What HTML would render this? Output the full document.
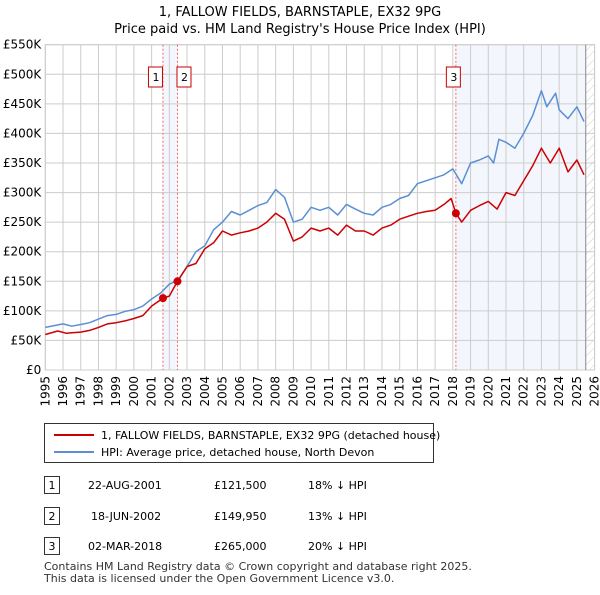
<!DOCTYPE html>
<html><head><meta charset="utf-8"><style>
body{margin:0;background:#fff;font-family:"Liberation Sans","DejaVu Sans",sans-serif;}
svg text{font-family:"DejaVu Sans","Liberation Sans",sans-serif;}
</style></head><body>
<svg id="c" width="600" height="590" viewBox="0 0 600 590" xmlns="http://www.w3.org/2000/svg">
<defs><pattern id="hatch" width="6" height="6" patternUnits="userSpaceOnUse" patternTransform="rotate(45)"><line x1="0" y1="0" x2="0" y2="6" stroke="#ccc" stroke-width="1"/></pattern></defs>
<text x="300" y="16" text-anchor="middle" font-size="13" fill="#000">1, FALLOW FIELDS, BARNSTAPLE, EX32 9PG</text>
<text x="300" y="33" text-anchor="middle" font-size="13" fill="#000">Price paid vs. HM Land Registry's House Price Index (HPI)</text>
<g id="plot"></g>
<g>
<rect x="44.5" y="423.5" width="389" height="39" fill="#fff" stroke="#333"/>
<line x1="54" y1="435" x2="94" y2="435" stroke="#cc0000" stroke-width="2"/>
<text x="101" y="439" font-size="11">1, FALLOW FIELDS, BARNSTAPLE, EX32 9PG (detached house)</text>
<line x1="54" y1="452" x2="94" y2="452" stroke="#5b8fd4" stroke-width="2"/>
<text x="101" y="456" font-size="11">HPI: Average price, detached house, North Devon</text>
</g>
<g font-size="11">
<rect x="44.5" y="476.5" width="15" height="17" fill="#fff" stroke="#333"/><text x="52" y="489" text-anchor="middle">1</text>
<text x="88" y="489">22-AUG-2001</text><text x="214" y="489">£121,500</text><text x="308" y="489">18% ↓ HPI</text>
<rect x="44.5" y="507.5" width="15" height="17" fill="#fff" stroke="#333"/><text x="52" y="520" text-anchor="middle">2</text>
<text x="91" y="520">18-JUN-2002</text><text x="214" y="520">£149,950</text><text x="308" y="520">13% ↓ HPI</text>
<rect x="44.5" y="537.5" width="15" height="17" fill="#fff" stroke="#333"/><text x="52" y="550" text-anchor="middle">3</text>
<text x="88" y="550">02-MAR-2018</text><text x="214" y="550">£265,000</text><text x="308" y="550">20% ↓ HPI</text>
</g>
<text x="44" y="570" font-size="11" fill="#333">Contains HM Land Registry data © Crown copyright and database right 2025.</text>
<text x="44" y="582" font-size="11" fill="#333">This data is licensed under the Open Government Licence v3.0.</text>
</svg>
<script>
const yTicks=[0,50,100,150,200,250,300,350,400,450,500,550];
const yTickLabels=["£0","£50K","£100K","£150K","£200K","£250K","£300K","£350K","£400K","£450K","£500K","£550K"];
const xYears=[1995,1996,1997,1998,1999,2000,2001,2002,2003,2004,2005,2006,2007,2008,2009,2010,2011,2012,2013,2014,2015,2016,2017,2018,2019,2020,2021,2022,2023,2024,2025,2026];
const hpiYears=[1995,1995.5,1996,1996.5,1997,1997.5,1998,1998.5,1999,1999.5,2000,2000.5,2001,2001.5,2002,2002.5,2003,2003.5,2004,2004.5,2005,2005.5,2006,2006.5,2007,2007.5,2008,2008.5,2009,2009.5,2010,2010.5,2011,2011.5,2012,2012.5,2013,2013.5,2014,2014.5,2015,2015.5,2016,2016.5,2017,2017.5,2018,2018.5,2019,2019.5,2020,2020.3,2020.6,2021,2021.5,2022,2022.5,2023,2023.3,2023.8,2024,2024.5,2025,2025.4];
const hpiValues=[72,75,78,74,77,80,86,92,94,99,102,108,120,130,145,152,175,200,210,237,250,268,262,270,278,283,305,292,250,255,275,270,275,262,280,272,265,262,275,280,290,295,315,320,325,330,340,315,350,355,362,350,390,385,375,400,430,472,445,468,440,425,445,420];
const priceYears=[1995,1995.7,1996.2,1996.5,1997,1997.5,1998,1998.5,1999,1999.5,2000,2000.5,2001,2001.64,2002,2002.46,2003,2003.5,2004,2004.5,2005,2005.5,2006,2006.5,2007,2007.5,2008,2008.5,2009,2009.5,2010,2010.5,2011,2011.5,2012,2012.5,2013,2013.5,2014,2014.5,2015,2015.5,2016,2016.5,2017,2017.5,2017.9,2018.17,2018.5,2019,2019.5,2020,2020.5,2021,2021.5,2022,2022.5,2023,2023.5,2024,2024.5,2025,2025.4];
const priceValues=[60,66,62,63,64,67,72,78,80,83,87,92,108,121.5,125,150,175,180,205,215,235,228,232,235,240,250,265,255,218,225,240,235,240,228,245,235,235,228,240,245,255,260,265,268,270,280,290,265,250,270,278,285,272,300,295,320,345,375,350,375,335,355,330];
const saleYears=[2001.64,2002.46,2018.17];
const saleValues=[121.5,149.95,265];
const saleLabels=["1","2","3"];
const L=45.3,R=594.6,T=44.7,B=370;
const xs=y=>L+(y-1995)/(2026-1995)*(R-L);
const ys=v=>B-v/550*(B-T);
const NS="http://www.w3.org/2000/svg";
const g=document.getElementById('plot');
function mk(t,a,p){const e=document.createElementNS(NS,t);for(const k in a)e.setAttribute(k,a[k]);(p||g).appendChild(e);return e;}
// shading
let s1=mk('rect',{x:xs(saleYears[0]),y:T,width:xs(saleYears[1])-xs(saleYears[0]),height:B-T,fill:'#eef3fc',opacity:0.7});


let s2=mk('rect',{x:xs(saleYears[2]),y:T,width:xs(2025.5)-xs(saleYears[2]),height:B-T,fill:'#eef3fc',opacity:0.7});


let h=mk('rect',{x:xs(2025.5),y:T,width:R-xs(2025.5),height:B-T,fill:'url(#hatch)'});


// grid
yTicks.forEach((v,i)=>{let l=mk('line',{x1:L,x2:R,y1:ys(v),y2:ys(v),stroke:'#ccc'});


let t=mk('text',{x:L-4,y:ys(v)+4,'text-anchor':'end','font-size':12,fill:'#000'});t.textContent=yTickLabels[i];

});
xYears.forEach(yr=>{let l=mk('line',{x1:xs(yr),x2:xs(yr),y1:T,y2:B,stroke:'#ccc'});


let t=mk('text',{x:0,y:0,'text-anchor':'end','font-size':12,fill:'#000',transform:`translate(${xs(yr)+4},${B+6}) rotate(-90)`});t.textContent=yr;

});
let bx=mk('rect',{x:L,y:T,width:R-L,height:B-T,fill:'none',stroke:'#ccc'});


let ed=mk('line',{x1:xs(2025.5),x2:xs(2025.5),y1:T,y2:B,stroke:'#888'});


// sale vlines
saleYears.forEach((yr,i)=>{let l=mk('line',{x1:xs(yr),x2:xs(yr),y1:T,y2:B,stroke:'#e66','stroke-dasharray':'2,2'});

});
function path(xa,va,col,name){let d=xa.map((x,i)=>(i?'L':'M')+xs(x).toFixed(1)+','+ys(va[i]).toFixed(1)).join('');
let p=mk('path',{d:d,fill:'none',stroke:col,'stroke-width':1.5,'stroke-linejoin':'round'});

}
path(hpiYears,hpiValues,'#5b8fd4','hpi-line');
path(priceYears,priceValues,'#cc0000','price-line');
saleYears.forEach((yr,i)=>{let c=mk('circle',{cx:xs(yr),cy:ys(saleValues[i]),r:4,fill:'#cc0000'});


let off=i==0?-7:(i==1?7:0);
let bxl=mk('rect',{x:xs(yr)+off-7.5-(i==2?2:0),y:67,width:14,height:20,fill:'#fff',stroke:'#cc0000'});


let t=mk('text',{x:xs(yr)+off-(i==2?2:0),y:81,'text-anchor':'middle','font-size':11});t.textContent=saleLabels[i];

});
</script>
</body></html>
